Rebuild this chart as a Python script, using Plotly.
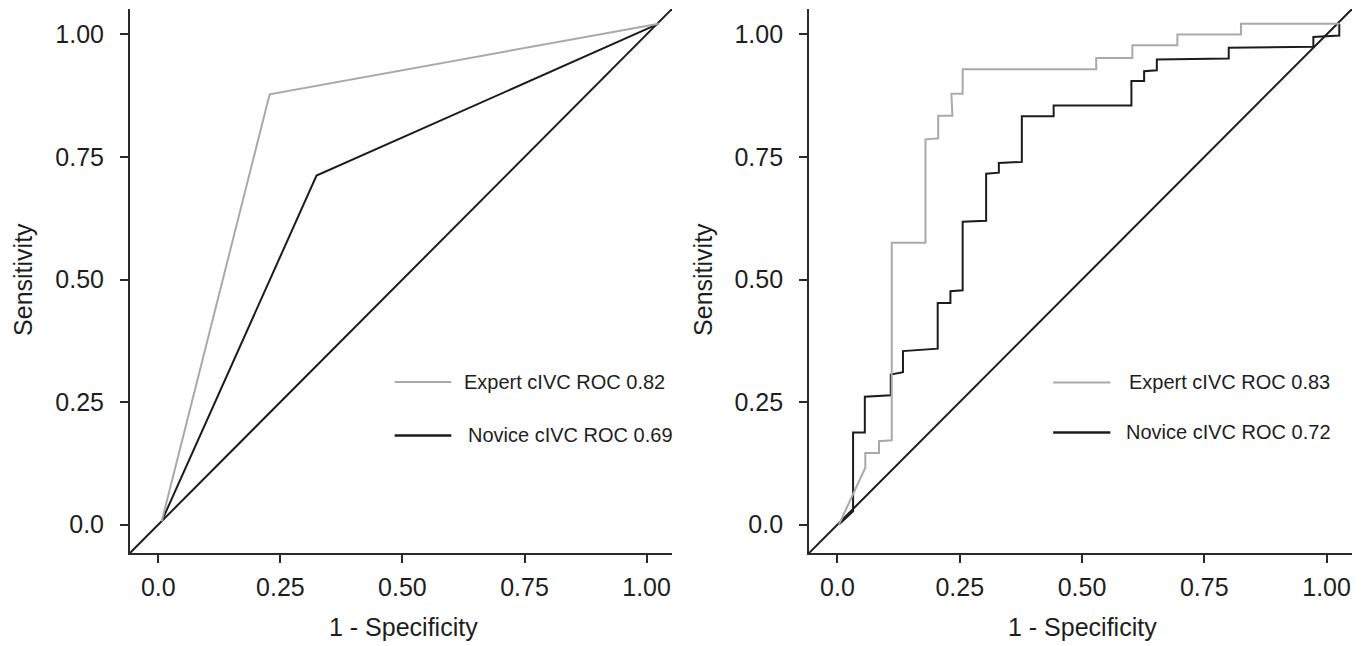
import plotly.graph_objects as go

# ---------------- data ----------------
# Left panel (binary classification ROC)
left_expert_fpr = [0.007, 0.228, 1.025]
left_expert_tpr = [0.007, 0.878, 1.022]
left_novice_fpr = [0.007, 0.324, 1.025]
left_novice_tpr = [0.007, 0.712, 1.022]

# Right panel (continuous ROC, step curves)
right_expert_fpr = [0.003, 0.057, 0.057, 0.085, 0.085, 0.111, 0.111, 0.180, 0.180, 0.206, 0.206,
                    0.235, 0.233, 0.256, 0.256, 0.529, 0.529, 0.603, 0.603, 0.695, 0.695,
                    0.825, 0.825, 1.026]
right_expert_tpr = [0.000, 0.116, 0.146, 0.146, 0.170, 0.172, 0.575, 0.575, 0.786, 0.788, 0.834,
                    0.834, 0.879, 0.879, 0.929, 0.929, 0.952, 0.952, 0.978, 0.978, 1.000,
                    1.000, 1.022, 1.022]
right_novice_fpr = [0.003, 0.032, 0.032, 0.056, 0.056, 0.109, 0.109, 0.134, 0.134, 0.205, 0.205,
                    0.231, 0.231, 0.256, 0.256, 0.304, 0.304, 0.330, 0.330, 0.377, 0.377,
                    0.442, 0.442, 0.601, 0.601, 0.627, 0.627, 0.653, 0.653, 0.800, 0.800,
                    0.973, 0.973, 1.026, 1.026]
right_novice_tpr = [0.000, 0.027, 0.188, 0.188, 0.261, 0.264, 0.306, 0.311, 0.354, 0.359, 0.452,
                    0.452, 0.476, 0.478, 0.618, 0.620, 0.716, 0.718, 0.738, 0.740, 0.833,
                    0.833, 0.855, 0.855, 0.905, 0.905, 0.925, 0.927, 0.949, 0.951, 0.973,
                    0.975, 0.995, 0.998, 1.022]

chance_line = [-0.1, 1.1]

left_labels = ["Expert cIVC ROC 0.82", "Novice cIVC ROC 0.69"]
right_labels = ["Expert cIVC ROC 0.83", "Novice cIVC ROC 0.72"]

tick_vals = [0, 0.25, 0.5, 0.75, 1.0]
tick_text = ["0.0", "0.25", "0.50", "0.75", "1.00"]
x_title = "1 - Specificity"
y_title = "Sensitivity"

# ---------------- style ----------------
GRAY = "#a9a9a9"
BLACK = "#1c1c1c"
AXIS = "#2a2a2a"
FONT = "Liberation Sans, Arial, Helvetica, sans-serif"
TXT = "#1e1e1e"

fig = go.Figure()

def add_line(x, y, color, xa, ya, w=2):
    fig.add_trace(go.Scatter(x=x, y=y, mode="lines", line=dict(color=color, width=w),
                             xaxis=xa, yaxis=ya, showlegend=False, hoverinfo="skip"))

add_line(chance_line, chance_line, BLACK, "x", "y", 2)
add_line(left_novice_fpr, left_novice_tpr, BLACK, "x", "y", 2)
add_line(left_expert_fpr, left_expert_tpr, GRAY, "x", "y", 2)

add_line(chance_line, chance_line, BLACK, "x2", "y2", 2)
add_line(right_novice_fpr, right_novice_tpr, BLACK, "x2", "y2", 2)
add_line(right_expert_fpr, right_expert_tpr, GRAY, "x2", "y2", 2)

axis_common = dict(
    range=[-0.058, 1.052], showgrid=False, zeroline=False, showline=True,
    linecolor=AXIS, linewidth=2, ticks="outside", ticklen=8, tickwidth=1.5,
    tickcolor=AXIS, tickvals=tick_vals, ticktext=tick_text,
    tickfont=dict(family=FONT, size=25, color=TXT),
)

# page has an 8px body margin: figure is offset by (8, 8)
fig.update_layout(
    width=1360, height=638,
    margin=dict(l=122, r=16, t=1, b=93),
    plot_bgcolor="white", paper_bgcolor="white",
    xaxis=dict(domain=[0, 0.4435], anchor="y", ticklabelstandoff=3, **axis_common),
    yaxis=dict(domain=[0, 1], anchor="x", ticklabelstandoff=11, **axis_common),
    xaxis2=dict(domain=[0.5557, 1], anchor="y2", ticklabelstandoff=3, **axis_common),
    yaxis2=dict(domain=[0, 1], anchor="x2", ticklabelstandoff=11, **axis_common),
    font=dict(family=FONT, color=TXT),
)

annotations = []
# axis titles
for xc in [(403 - 130) / 1222, (1082 - 130) / 1222]:
    annotations.append(dict(text=x_title, xref="paper", yref="paper", x=xc, y=(553 - 627) / 544,
                            xanchor="center", yanchor="middle", showarrow=False,
                            font=dict(family=FONT, size=25, color=TXT)))
for xc in [(23 - 130) / 1222, (703 - 130) / 1222]:
    annotations.append(dict(text=y_title, xref="paper", yref="paper", x=xc, y=0.502,
                            xanchor="center", yanchor="middle", textangle=-90, showarrow=False,
                            font=dict(family=FONT, size=25, color=TXT)))

# legend keys (drawn inside panels)
shapes = []
legend_spec = [
    ("x", "y", left_labels, [(0.484, 0.600, 0.291, 0.622), (0.484, 0.600, 0.182, 0.631)]),
    ("x2", "y2", right_labels, [(0.441, 0.558, 0.290, 0.593), (0.441, 0.558, 0.188, 0.586)]),
]
for xa, ya, labels, pos in legend_spec:
    for (x0, x1, yy, xt), lab, col, w in zip(pos, labels, [GRAY, BLACK], [2, 2.5]):
        shapes.append(dict(type="line", xref=xa, yref=ya, x0=x0, x1=x1, y0=yy, y1=yy,
                           line=dict(color=col, width=w)))
        annotations.append(dict(text=lab, xref=xa, yref=ya, x=xt, y=yy, xanchor="left",
                                yanchor="middle", showarrow=False,
                                font=dict(family=FONT, size=20, color=TXT)))

fig.update_layout(annotations=annotations, shapes=shapes)
fig.write_html("out.html")
